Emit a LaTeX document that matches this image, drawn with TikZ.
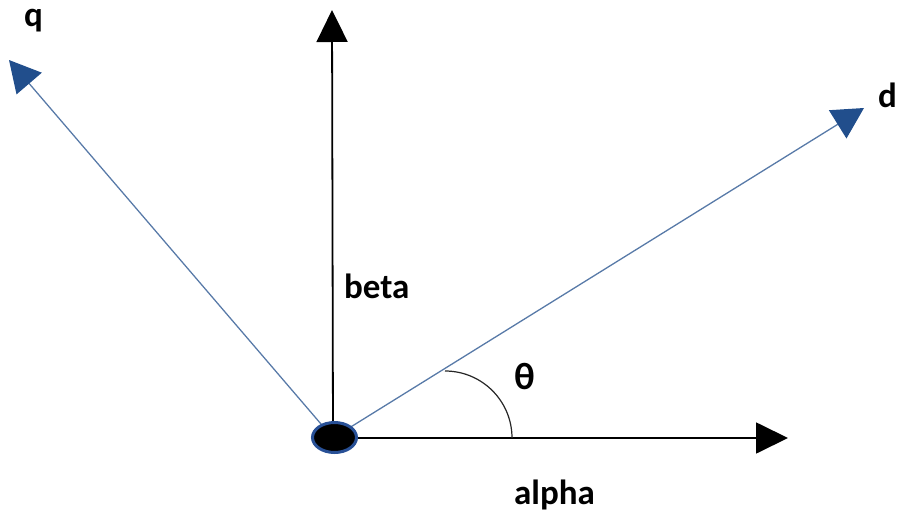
\documentclass[tikz,border=0pt]{standalone}
\usepackage{fontspec}
\setmainfont{Carlito}
\usetikzlibrary{arrows.meta,shapes.geometric}
\definecolor{vecline}{RGB}{88,122,168}
\definecolor{vectip}{RGB}{33,78,140}
\definecolor{rimblue}{RGB}{40,80,150}
\tikzset{
  axis/.style={line width=1.8pt, black, -{Triangle[length=32pt,width=31pt]}},
  vec/.style={line width=1.3pt, vecline, -{Triangle[length=31pt,width=33pt,color=vectip]}},
  lbl/.style={inner sep=0pt, anchor=base west, font=\fontsize{35}{38}\selectfont\bfseries},
}
\begin{document}
\begin{tikzpicture}[x=1pt,y=-1pt]
\useasboundingbox (0,0) rectangle (897,519);
\coordinate (O) at (333,438);
\coordinate (betaTip) at (332,10);
\coordinate (alphaTip) at (788,438);
\coordinate (qTip) at (9,60);
\coordinate (dTip) at (864,108);
\coordinate (arcA) at (445,371);
\coordinate (arcB) at (512,438);
\draw[axis] (O) -- (betaTip);
\draw[axis] (O) -- (alphaTip);
\draw[vec] (O) -- (qTip);
\draw[vec] (O) -- (dTip);
\draw[line width=1.2pt, black!85] (arcA) .. controls (482,371) and (512,401) .. (arcB);
\node[draw=rimblue, line width=3pt, fill=black, ellipse, minimum width=44pt, minimum height=30pt, inner sep=0pt] (Odot) at (334.5,437.5) {};
\node[lbl] (q) at (24,27) {q};
\node[lbl] (d) at (878,107) {d};
\node[lbl] (beta) at (344,298) {beta};
\node[lbl] (alpha) at (514,504) {alpha};
\node[lbl, font=\fontsize{38}{40}\selectfont\bfseries] (theta) at (514,389) {θ};
\end{tikzpicture}
\end{document}
